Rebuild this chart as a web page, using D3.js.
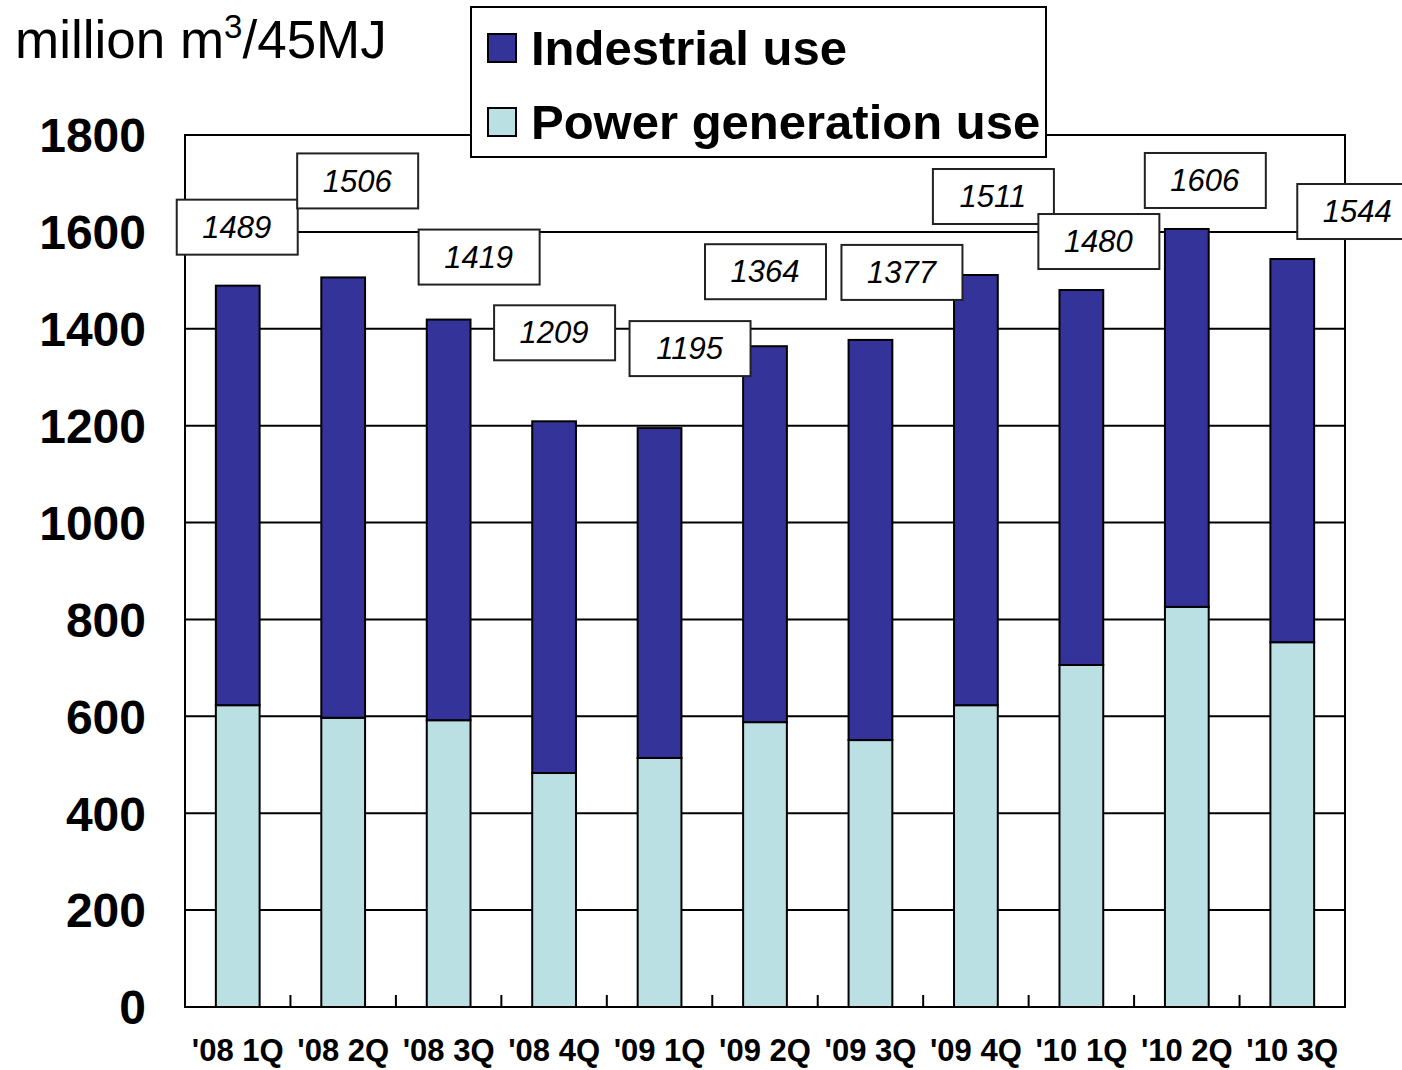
<!DOCTYPE html>
<html>
<head>
<meta charset="utf-8">
<script src="https://cdn.jsdelivr.net/npm/d3@7/dist/d3.min.js"></script>
<style>
  html, body { margin: 0; padding: 0; background: #fff; }
  svg { display: block; font-family: "Liberation Sans", Arial, sans-serif; }
</style>
</head>
<body>
<svg id="chart" width="1402" height="1070"></svg>
<script>
// ---- data ----
const categories = ["'08 1Q", "'08 2Q", "'08 3Q", "'08 4Q", "'09 1Q", "'09 2Q", "'09 3Q", "'09 4Q", "'10 1Q", "'10 2Q", "'10 3Q"];
const totals = [1489, 1506, 1419, 1209, 1195, 1364, 1377, 1511, 1480, 1606, 1544];
const powerUse = [623, 597, 592, 483, 514, 588, 551, 623, 706, 826, 753];
const industrialUse = totals.map((t, i) => t - powerUse[i]);
const yTicks = [0, 200, 400, 600, 800, 1000, 1200, 1400, 1600, 1800];
const seriesNames = ["Indestrial use", "Power generation use"];

// label box offsets (px) relative to bar top centre
const labelDx = [-1, 14, 30, 0, 30, 0, 31, 17, 17, 18, 65];
const labelDy = [-59, -97, -63, -89, -80, -75, -68, -79, -49, -49, -48];

(function () {
// ---- layout ----
const svg = d3.select("#chart");
const pL = 185, pR = 1345, pT = 135, pB = 1007;
const colInd = "#333399", colPow = "#BBE0E3";

const x = d3.scaleBand().domain(categories).range([pL, pR]).paddingInner(0.585).paddingOuter(0.2925);
const y = d3.scaleLinear().domain([0, 1800]).range([pB, pT]);

// gridlines
svg.append("g").selectAll("line").data(yTicks.filter(d => d > 0 && d < 1800)).join("line")
  .attr("x1", pL).attr("x2", pR)
  .attr("y1", d => y(d)).attr("y2", d => y(d))
  .attr("stroke", "#000").attr("stroke-width", 2);

// bars
const bars = svg.append("g");
bars.selectAll("rect.pow").data(categories).join("rect")
  .attr("class", "pow")
  .attr("x", d => x(d)).attr("width", x.bandwidth())
  .attr("y", (d, i) => y(powerUse[i]))
  .attr("height", (d, i) => y(0) - y(powerUse[i]))
  .attr("fill", colPow).attr("stroke", "#000").attr("stroke-width", 2);
bars.selectAll("rect.ind").data(categories).join("rect")
  .attr("class", "ind")
  .attr("x", d => x(d)).attr("width", x.bandwidth())
  .attr("y", (d, i) => y(totals[i]))
  .attr("height", (d, i) => y(powerUse[i]) - y(totals[i]))
  .attr("fill", colInd).attr("stroke", "#000").attr("stroke-width", 2);

// plot frame
svg.append("rect").attr("x", pL).attr("y", pT).attr("width", pR - pL).attr("height", pB - pT)
  .attr("fill", "none").attr("stroke", "#000").attr("stroke-width", 2);

// x ticks at band boundaries (inside)
const bounds = categories.slice(1).map(c => x(c) - x.step() * x.paddingInner() / 2);
svg.append("g").selectAll("line").data(bounds).join("line")
  .attr("x1", d => d).attr("x2", d => d)
  .attr("y1", pB).attr("y2", pB - 12)
  .attr("stroke", "#000").attr("stroke-width", 2);

// y axis labels
svg.append("g").selectAll("text").data(yTicks).join("text")
  .attr("x", 146).attr("y", d => y(d))
  .attr("dy", "0.36em")
  .attr("text-anchor", "end")
  .attr("font-size", 48).attr("font-weight", "bold")
  .text(d => d);

// x axis labels
svg.append("g").selectAll("text").data(categories).join("text")
  .attr("x", d => x(d) + x.bandwidth() / 2).attr("y", 1061)
  .attr("text-anchor", "middle")
  .attr("font-size", 31).attr("font-weight", "bold")
  .text(d => d);

// value label boxes
const lbl = svg.append("g").selectAll("g").data(categories).join("g")
  .attr("transform", (d, i) => `translate(${x(d) + x.bandwidth() / 2 + labelDx[i]},${y(totals[i]) + labelDy[i]})`);
lbl.append("rect").attr("x", -60).attr("y", -27).attr("width", 121).attr("height", 55)
  .attr("fill", "#fff").attr("stroke", "#222").attr("stroke-width", 2);
lbl.append("text").attr("text-anchor", "middle").attr("dy", "0.36em")
  .attr("font-size", 31).attr("font-style", "italic")
  .text((d, i) => totals[i]);

// unit title
const t = svg.append("text").attr("x", 15).attr("y", 58).attr("font-size", 53);
t.append("tspan").text("million m");
t.append("tspan").attr("font-size", 33).attr("dy", -20).text("3");
t.append("tspan").attr("dy", 20).text("/45MJ");

// legend
const lg = svg.append("g");
lg.append("rect").attr("x", 471).attr("y", 7).attr("width", 575).attr("height", 150)
  .attr("fill", "#fff").attr("stroke", "#000").attr("stroke-width", 2);
const items = lg.selectAll("g").data(seriesNames).join("g")
  .attr("transform", (d, i) => `translate(488,${34 + i * 74})`);
items.append("rect").attr("width", 28).attr("height", 28)
  .attr("fill", (d, i) => i === 0 ? colInd : colPow).attr("stroke", "#000").attr("stroke-width", 2);
items.append("text").attr("x", 43).attr("y", 31)
  .attr("font-size", 49).attr("font-weight", "bold")
  .text(d => d);
})();
</script>
</body>
</html>
